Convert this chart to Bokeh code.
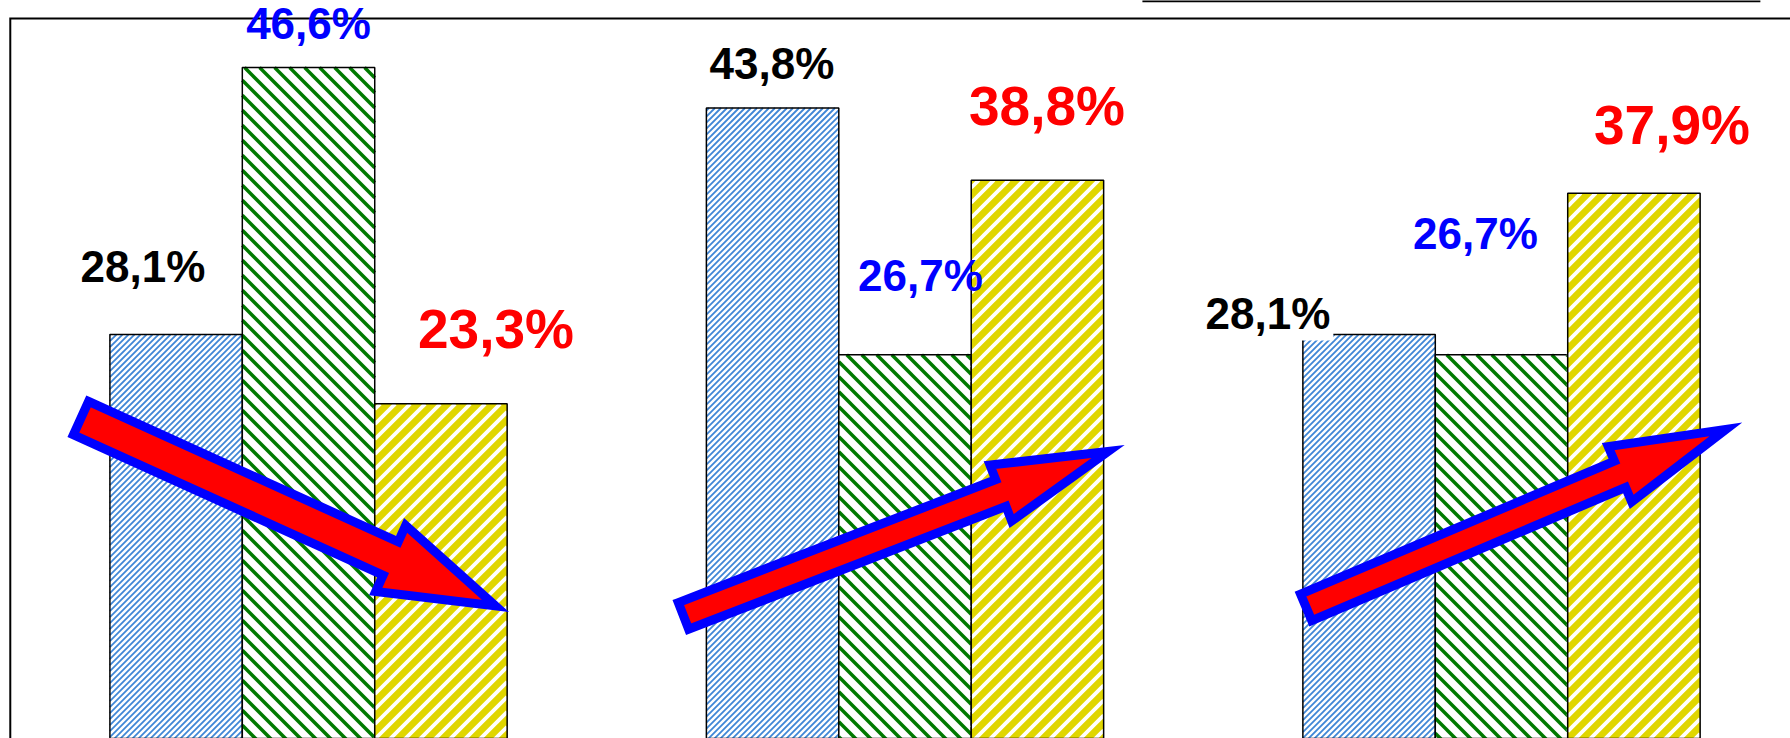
import math
from bokeh.plotting import figure
from bokeh.models import Range1d, Label, ColumnDataSource
from bokeh.embed import file_html
from bokeh.resources import INLINE

# ---------------- data ----------------
groups = ["1", "2", "3"]
series = ["Серия 1", "Серия 2", "Серия 3"]
blue_vals = [28.1, 43.8, 28.1]
green_vals = [46.6, 26.7, 26.7]
yellow_vals = [23.3, 38.8, 37.9]

# ---------------- layout ----------------
W, H = 1790, 738
X_START, X_END = -0.5164, 2.4845
Y_START, Y_END = 0.104, 51.25
BAR_W = 0.222
OFFSETS = [-BAR_W, 0.0, BAR_W]

# label anchor positions (data units), one per bar: [blue, green, yellow] per group
label_x = [[-0.2775, 0.000, 0.3143],
           [0.777, 1.0259, 1.238],
           [1.6085, 1.9563, 2.2858]]
label_y = [[32.84, 49.68, 28.45],
           [46.91, 32.22, 43.91],
           [29.59, 35.13, 42.59]]
label_bg = [[None, None, None],
            [None, None, None],
            ["white", None, None]]

# arrows: tail (x0,y0) -> tip (x1,y1) in data units; shaft half width, head half width, head length in px
arrows = [
    dict(x0=-0.3815, y0=22.31, x1=0.3133, y1=9.29, shaft=18.3, head_w=36.3, head_l=115),
    dict(x0=0.6286, y0=8.60, x1=1.3404, y1=19.99, shaft=14.3, head_w=30, head_l=115),
    dict(x0=1.6725, y0=9.19, x1=2.3761, y1=21.53, shaft=14.3, head_w=30, head_l=115),
]

p = figure(width=W, height=H, x_range=Range1d(X_START, X_END), y_range=Range1d(Y_START, Y_END),
           output_backend="svg", toolbar_location=None,
           x_axis_location=None, y_axis_location=None,
           min_border_left=0, min_border_right=0, min_border_top=0, min_border_bottom=0,
           outline_line_color=None, background_fill_color="white", border_fill_color="white")
p.grid.visible = False

U = W / (X_END - X_START)
V = H / (Y_END - Y_START)

gx = list(range(len(groups)))
vals = [blue_vals, green_vals, yellow_vals]
bar_x = [[g + OFFSETS[si] for g in gx] for si in range(3)]

fills = ["white", "white", "#e0d600"]
stripe_color = ["#3f86d6", "#007a00", "#ffffff"]
stripe_width = [1.8, 3.5, 3.8]
stripe_space = [6, 15, 15]
stripe_up = [True, False, True]


def hatch_segments(xcs, tops, spacing, up):
    out = dict(x0=[], y0=[], x1=[], y1=[])
    for xc, top in zip(xcs, tops):
        X0 = (xc - BAR_W / 2 - X_START) * U
        X1 = (xc + BAR_W / 2 - X_START) * U
        Y0 = (0 - Y_START) * V
        Y1 = (top - Y_START) * V
        if up:
            cmin, cmax = X0 - Y1, X1 - Y0
        else:
            cmin, cmax = X0 + Y0, X1 + Y1
        k = math.ceil(cmin / spacing)
        while k * spacing <= cmax:
            c = k * spacing
            if up:
                lo, hi = max(Y0, X0 - c), min(Y1, X1 - c)
                pa, pb = (lo + c, lo), (hi + c, hi)
            else:
                lo, hi = max(Y0, c - X1), min(Y1, c - X0)
                pa, pb = (c - lo, lo), (c - hi, hi)
            if hi > lo:
                out["x0"].append(pa[0] / U + X_START)
                out["y0"].append(pa[1] / V + Y_START)
                out["x1"].append(pb[0] / U + X_START)
                out["y1"].append(pb[1] / V + Y_START)
            k += 1
    return out


for si in range(3):
    src = ColumnDataSource(dict(x=bar_x[si], top=vals[si]))
    p.vbar(x="x", top="top", bottom=0, width=BAR_W, source=src,
           fill_color=fills[si], line_color=None)
    seg = hatch_segments(bar_x[si], vals[si], stripe_space[si], stripe_up[si])
    p.segment(x0="x0", y0="y0", x1="x1", y1="y1", source=ColumnDataSource(seg),
              line_color=stripe_color[si], line_width=stripe_width[si], line_cap="butt")
    p.vbar(x="x", top="top", bottom=0, width=BAR_W, source=src,
           fill_color=None, line_color="black", line_width=1.5)

# plot-area frame (left and top edges visible)
p.line(x=[-0.5, -0.5, 2.5], y=[Y_START - 1, 50, 50], line_color="black", line_width=2, line_join="miter")
# bottom edge of the legend box above the plot area
p.line(x=[1.398, 2.434], y=[Y_END - 0.04, Y_END - 0.04], line_color="black", line_width=2.5)


def arrow_shape(x0, y0, x1, y1, shaft, head_w, head_l):
    X0, Y0, X1, Y1 = x0 * U, y0 * V, x1 * U, y1 * V
    dx, dy = X1 - X0, Y1 - Y0
    L = math.hypot(dx, dy)
    ux, uy = dx / L, dy / L
    nx, ny = -uy, ux
    bx, by = X1 - ux * head_l, Y1 - uy * head_l
    pts = [(X0 + nx * shaft, Y0 + ny * shaft), (bx + nx * shaft, by + ny * shaft),
           (bx + nx * head_w, by + ny * head_w), (X1, Y1),
           (bx - nx * head_w, by - ny * head_w), (bx - nx * shaft, by - ny * shaft),
           (X0 - nx * shaft, Y0 - ny * shaft)]
    return [q[0] / U for q in pts], [q[1] / V for q in pts]


axs, ays = [], []
for a in arrows:
    xs, ys = arrow_shape(**a)
    axs.append(xs)
    ays.append(ys)
p.patches(xs=axs, ys=ays, fill_color="#ff0000", line_color="#0000ff", line_width=9, line_join="miter")

colors = ["black", "#0000ff", "#ff0000"]
sizes = ["44px", "44px", "55px"]
for gi in range(len(groups)):
    for si in range(3):
        v = vals[si][gi]
        txt = f"{v:.1f}%".replace(".", ",")
        kw = {}
        if label_bg[gi][si]:
            kw = dict(background_fill_color=label_bg[gi][si], padding=3)
        p.add_layout(Label(x=label_x[gi][si], y=label_y[gi][si], text=txt,
                           text_align="center", text_baseline="alphabetic",
                           text_font="Liberation Sans", text_font_style="bold",
                           text_font_size=sizes[si], text_color=colors[si], **kw))

open("out.html", "w").write(file_html(p, INLINE))
